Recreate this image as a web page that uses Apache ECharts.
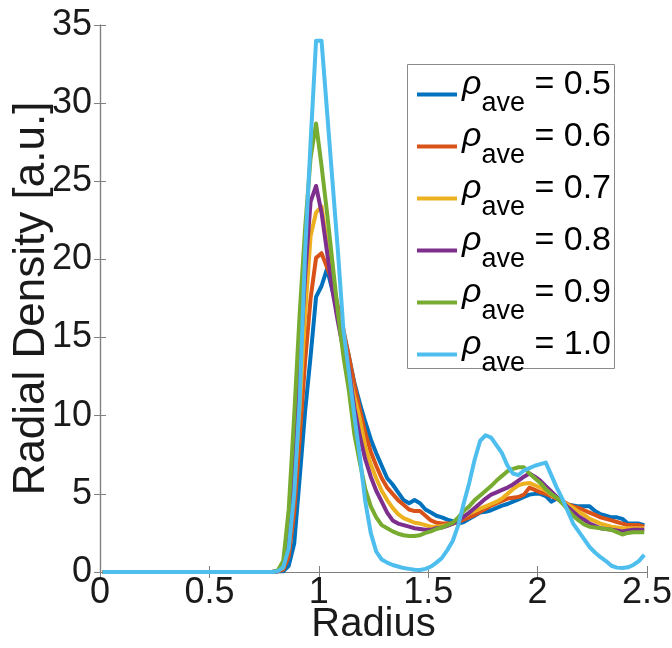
<!DOCTYPE html>
<html><head><meta charset="utf-8">
<script src="https://cdn.jsdelivr.net/npm/echarts@6/dist/echarts.min.js"></script>
<style>html,body{margin:0;padding:0;background:#fff}#c{width:672px;height:648px}</style>
</head><body><div id="c"></div>
<script>
// Radius sample points (bin centres)
const radius = [
0.0125,0.0375,0.0625,0.0875,0.1125,0.1375,0.1625,0.1875,0.2125,0.2375,
0.2625,0.2875,0.3125,0.3375,0.3625,0.3875,0.4125,0.4375,0.4625,0.4875,
0.5125,0.5375,0.5625,0.5875,0.6125,0.6375,0.6625,0.6875,0.7125,0.7375,
0.7625,0.7875,0.8125,0.8375,0.8625,0.8875,0.9125,0.9375,0.9625,0.9875,
1.0125,1.0375,1.0625,1.0875,1.1125,1.1375,1.1625,1.1875,1.2125,1.2375,
1.2625,1.2875,1.3125,1.3375,1.3625,1.3875,1.4125,1.4375,1.4625,1.4875,
1.5125,1.5375,1.5625,1.5875,1.6125,1.6375,1.6625,1.6875,1.7125,1.7375,
1.7625,1.7875,1.8125,1.8375,1.8625,1.8875,1.9125,1.9375,1.9625,1.9875,
2.0125,2.0375,2.0625,2.0875,2.1125,2.1375,2.1625,2.1875,2.2125,2.2375,
2.2625,2.2875,2.3125,2.3375,2.3625,2.3875,2.4125,2.4375,2.4625,2.4875];

const rho05 = [
0,0,0,0,0,0,0,0,0,0, 0,0,0,0,0,0,0,0,0,0, 0,0,0,0,0,0,0,0,0,0, 0,0,
0.05,0.05,0.4,1.8,6.0,10.3,13.8,17.6,18.3,19.4,
18.0,16.7,15.3,13.8,12.1,10.8,9.6,8.5,7.6,6.8,
6.0,5.6,5.1,4.6,4.4,4.6,4.4,4.0,3.8,3.6,
3.5,3.35,3.25,3.1,3.2,3.4,3.6,3.8,3.85,3.95,
4.1,4.25,4.35,4.5,4.65,4.8,4.95,5.0,5.0,4.85,
4.5,4.7,4.5,4.3,4.25,4.2,4.2,4.2,3.9,3.7,
3.6,3.5,3.5,3.4,3.1,3.1,3.1,3.0];

const rho06 = [
0,0,0,0,0,0,0,0,0,0, 0,0,0,0,0,0,0,0,0,0, 0,0,0,0,0,0,0,0,0,0, 0,0,
0.05,0.15,1.0,3.8,8.5,13.5,17.5,20.1,20.4,19.5,
18.6,17.0,15.5,13.8,12.0,10.4,8.9,7.7,6.8,6.0,
5.4,5.0,4.6,4.3,4.0,3.9,3.9,3.6,3.3,3.15,
3.1,3.1,3.1,3.2,3.35,3.5,3.65,3.85,4.05,4.25,
4.4,4.55,4.7,4.75,4.8,4.95,5.4,5.25,5.1,5.0,
4.85,4.7,4.55,4.35,4.2,4.1,3.95,3.8,3.65,3.5,
3.4,3.3,3.2,3.1,3.0,3.0,3.0,2.9];

const rho07 = [
0,0,0,0,0,0,0,0,0,0, 0,0,0,0,0,0,0,0,0,0, 0,0,0,0,0,0,0,0,0,0, 0,0,
0.05,0.3,1.8,5.5,10.5,16.5,21.5,23.0,23.4,21.0,
18.5,16.5,14.5,12.8,11.2,9.8,8.0,6.9,6.0,5.2,
4.6,4.1,3.7,3.45,3.3,3.15,3.1,3.0,2.9,2.9,
2.95,3.0,3.1,3.35,3.55,3.75,3.9,4.05,4.2,4.35,
4.5,4.7,5.0,5.3,5.55,5.65,5.7,5.55,5.4,5.2,
4.95,4.75,4.5,4.3,4.1,3.85,3.65,3.4,3.25,3.1,
3.0,2.9,2.85,2.8,2.8,2.8,2.8,2.8];

const rho08 = [
0,0,0,0,0,0,0,0,0,0, 0,0,0,0,0,0,0,0,0,0, 0,0,0,0,0,0,0,0,0,0, 0,0,
0.05,0.4,2.5,7.0,13.0,19.0,23.7,24.7,23.0,20.5,
18.0,16.0,14.2,13.0,10.5,8.7,7.2,6.1,5.2,4.5,
3.8,3.3,3.1,3.0,2.9,2.8,2.75,2.7,2.7,2.8,
2.85,2.95,3.1,3.3,3.55,3.8,4.1,4.4,4.7,4.95,
5.1,5.25,5.4,5.6,5.85,6.1,6.3,6.1,5.85,5.5,
5.15,4.8,4.5,4.15,3.85,3.55,3.35,3.1,2.95,2.8,
2.75,2.7,2.65,2.6,2.65,2.7,2.7,2.7];

const rho09 = [
0,0,0,0,0,0,0,0,0,0, 0,0,0,0,0,0,0,0,0,0, 0,0,0,0,0,0,0,0,0,0, 0,0,
0.1,0.7,4.0,10.0,16.5,22.0,26.5,28.7,26.0,23.0,
19.8,16.6,13.8,11.6,8.8,7.0,5.3,4.2,3.5,3.0,
2.8,2.6,2.45,2.35,2.3,2.3,2.35,2.5,2.6,2.75,
2.85,3.0,3.15,3.5,3.9,4.2,4.6,4.9,5.2,5.5,
5.85,6.15,6.45,6.6,6.7,6.7,6.3,6.0,5.7,5.3,
5.0,4.75,4.4,4.0,3.6,3.3,3.05,2.9,2.85,2.8,
2.75,2.7,2.55,2.4,2.5,2.55,2.55,2.55];

const rho10 = [
0,0,0,0,0,0,0,0,0,0, 0,0,0,0,0,0,0,0,0,0, 0,0,0,0,0,0,0,0,0,0, 0,0,
0.05,0.3,1.5,5.0,11.0,20.5,27.5,34.0,34.0,29.5,
25.0,20.5,15.5,12.8,10.0,7.4,4.5,2.5,1.3,0.8,
0.6,0.45,0.35,0.25,0.2,0.15,0.13,0.2,0.35,0.6,
0.9,1.4,2.0,3.0,4.4,5.7,7.2,8.4,8.75,8.6,
8.1,7.6,6.8,6.3,6.2,6.5,6.65,6.8,6.9,7.0,
6.2,5.4,4.7,3.9,3.1,2.6,2.1,1.6,1.25,0.95,
0.7,0.4,0.28,0.25,0.3,0.45,0.7,1.1];

const seriesNames = ['0.5', '0.6', '0.7', '0.8', '0.9', '1.0'];
const seriesValues = [rho05, rho06, rho07, rho08, rho09, rho10];
const colors = ['#0072BD', '#D95319', '#EDB120', '#7E2F8E', '#77AC30', '#4DBEEE'];

const FONT = '"Liberation Sans", Arial, Helvetica, sans-serif';
const AXIS_COLOR = '#808080';
const TEXT_COLOR = '#1a1a1a';

const chart = echarts.init(document.getElementById('c'), null, {renderer: 'canvas'});

const series = seriesNames.map((name, i) => ({
  name: name,
  type: 'line',
  symbol: 'none',
  showSymbol: false,
  xAxisIndex: 0,
  yAxisIndex: 0,
  color: colors[i],
  lineStyle: {width: 4, color: colors[i], join: 'round'},
  emphasis: {disabled: true},
  data: radius.map((x, j) => [x, seriesValues[i][j]])
}));

const tickStyle = {show: true, inside: true, length: 6, lineStyle: {color: AXIS_COLOR, width: 1}};
const lineAxis = {show: true, lineStyle: {color: AXIS_COLOR, width: 1.2}};

chart.setOption({
  animation: false,
  backgroundColor: '#ffffff',
  grid: {left: 100, top: 25, width: 547, height: 547, outerBoundsMode: 'none', containLabel: false},
  graphic: [{
    type: 'rect',
    z: 3,
    silent: true,
    shape: {x: 407.5, y: 64.5, width: 207, height: 304},
    style: {fill: '#ffffff', stroke: '#8a8a8a', lineWidth: 1}
  }],
  legend: {
    orient: 'vertical',
    left: 407,
    top: 64,
    z: 5,
    data: seriesNames,
    selectedMode: false,
    icon: 'rect',
    backgroundColor: 'transparent',
    borderWidth: 0,
    padding: [4, 4, 1, 10],
    itemGap: -1,
    itemWidth: 40,
    itemHeight: 4,
    formatter: function (name) { return '{r|ρ}{s|ave}{e| = ' + name + '}'; },
    textStyle: {
      fontFamily: FONT,
      color: '#000',
      rich: {
        r: {fontFamily: FONT, fontSize: 34, fontStyle: 'italic', color: '#000', lineHeight: 30, padding: [0, 0, 19, 0]},
        s: {fontFamily: FONT, fontSize: 27, color: '#000', lineHeight: 24, padding: [19, 0, 0, 0]},
        e: {fontFamily: FONT, fontSize: 34, color: '#000', lineHeight: 30, padding: [0, 0, 19, 0]}
      }
    }
  },
  xAxis: [{
    type: 'value',
    position: 'bottom',
    min: 0, max: 2.5, interval: 0.5,
    name: 'Radius',
    nameLocation: 'middle',
    nameGap: 33,
    nameMoveOverlap: false,
    nameTextStyle: {fontFamily: FONT, fontSize: 40, color: TEXT_COLOR},
    axisLine: lineAxis,
    axisTick: tickStyle,
    axisLabel: {fontFamily: FONT, fontSize: 36, color: TEXT_COLOR, margin: 3},
    splitLine: {show: false}
  }, {
    type: 'value',
    position: 'top',
    min: 0, max: 2.5, interval: 0.5,
    axisLine: lineAxis,
    axisTick: tickStyle,
    axisLabel: {show: false},
    splitLine: {show: false}
  }],
  yAxis: [{
    type: 'value',
    position: 'left',
    min: 0, max: 35, interval: 5,
    name: 'Radial Density [a.u.]',
    nameLocation: 'middle',
    nameGap: 46,
    nameMoveOverlap: false,
    nameTextStyle: {fontFamily: FONT, fontSize: 44, color: TEXT_COLOR},
    axisLine: lineAxis,
    axisTick: tickStyle,
    axisLabel: {fontFamily: FONT, fontSize: 36, color: TEXT_COLOR, margin: 8},
    splitLine: {show: false}
  }, {
    type: 'value',
    position: 'right',
    min: 0, max: 35, interval: 5,
    axisLine: lineAxis,
    axisTick: tickStyle,
    axisLabel: {show: false},
    splitLine: {show: false}
  }],
  series: series
});
</script>
</body></html>
